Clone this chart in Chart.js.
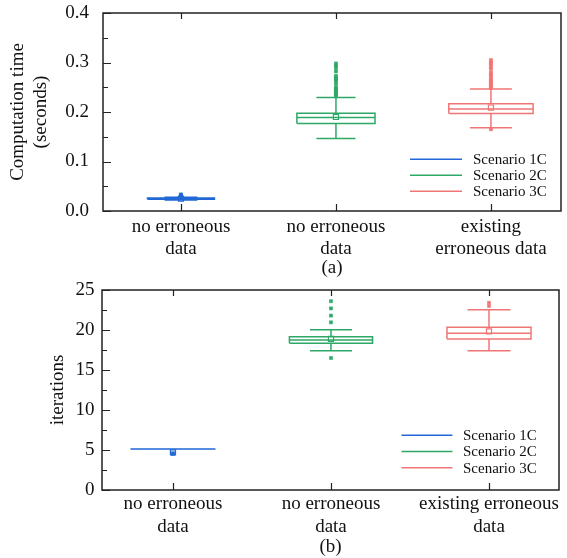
<!DOCTYPE html>
<html><head><meta charset="utf-8">
<script src="https://cdn.jsdelivr.net/npm/chart.js@4.4.1/dist/chart.umd.min.js"></script>
<style>
html,body{margin:0;padding:0;background:#fff;}
#wrap{width:567px;height:558px;position:relative;overflow:hidden;}
canvas{position:absolute;left:0;}
</style></head><body>
<div id="wrap">
<canvas id="ca" width="567" height="280" style="top:0"></canvas>
<canvas id="cb" width="567" height="278" style="top:280px"></canvas>
</div>
<script>
// ---------- data ----------
const scenarios = ['Scenario 1C', 'Scenario 2C', 'Scenario 3C'];
const categoriesA = [['no erroneous', 'data'], ['no erroneous', 'data'], ['existing', 'erroneous data']];
const categoriesB = [['no erroneous', 'data'], ['no erroneous', 'data'], ['existing erroneous', 'data']];
const yTicksA = [0, 0.1, 0.2, 0.3, 0.4];
const yTicksB = [0, 5, 10, 15, 20, 25];

// (a) computation time, seconds: [lower whisker, Q1, median, Q3, upper whisker]
const timeBox1C = [0.0222, 0.0236, 0.0250, 0.0264, 0.0278];
const timeBox2C = [0.1465, 0.1767, 0.1888, 0.1975, 0.2294];
const timeBox3C = [0.1680, 0.1968, 0.2062, 0.2169, 0.2464];
const timeMean = [0.0250, 0.1900, 0.2090];
const timeOut1C = [0.0290, 0.0305, 0.0320, 0.0335];
const timeOut2C = [0.232, 0.235, 0.238, 0.241, 0.244, 0.247, 0.250, 0.257, 0.263, 0.266, 0.270, 0.273, 0.282, 0.289, 0.294, 0.298];
const timeOut3C = [0.165, 0.249, 0.252, 0.255, 0.258, 0.261, 0.264, 0.268, 0.273, 0.276, 0.280, 0.287, 0.290, 0.295, 0.298, 0.301, 0.305];

// (b) iterations: [lower whisker, Q1, median, Q3, upper whisker]
const iterBox1C = [5.13, 5.13, 5.13, 5.13, 5.13];
const iterBox2C = [17.42, 18.33, 18.75, 19.17, 20.04];
const iterBox3C = [17.42, 18.87, 19.58, 20.33, 22.54];
const iterMean = [4.70, 18.90, 19.83];
const iterOut1C = [4.50, 4.60];
const iterOut2C = [16.5, 20.96, 21.8, 22.7, 23.6];
const iterOut3C = [23.0, 23.4];

// ---------- styles ----------
const COLORS = ['#2168d6', '#2ea866', '#f07676'];
const FONT = "'Liberation Serif', 'Times New Roman', serif";

function boxPath(x, b, bh, ch) {
  return [
    {x: x - bh, y: b[1]}, {x: x + bh, y: b[1]}, {x: x + bh, y: b[3]}, {x: x - bh, y: b[3]}, {x: x - bh, y: b[1]}, {x: x, y: null},
    {x: x - bh, y: b[2]}, {x: x + bh, y: b[2]}, {x: x, y: null},
    {x: x, y: b[3]}, {x: x, y: b[4]}, {x: x, y: null},
    {x: x - ch, y: b[4]}, {x: x + ch, y: b[4]}, {x: x, y: null},
    {x: x, y: b[1]}, {x: x, y: b[0]}, {x: x, y: null},
    {x: x - ch, y: b[0]}, {x: x + ch, y: b[0]}
  ];
}

function buildDatasets(boxes, means, outs, boxHalf, capHalf) {
  const ds = [];
  boxes.forEach((b, i) => {
    const x = i + 1;
    ds.push({type: 'line', label: scenarios[i], data: boxPath(x, b, boxHalf[i], capHalf[i]),
      borderColor: COLORS[i], borderWidth: 1.5, pointRadius: 0, spanGaps: false, fill: false,
      tension: 0, borderJoinStyle: 'miter'});
    ds.push({type: 'scatter', label: scenarios[i] + ' outliers', data: outs[i].map(v => ({x: x, y: v})),
      pointStyle: 'rect', pointRadius: 2.2, backgroundColor: COLORS[i], borderColor: COLORS[i], borderWidth: 0.5});
    ds.push({type: 'scatter', label: scenarios[i] + ' mean', data: [{x: x, y: means[i]}],
      pointStyle: 'rect', pointRadius: 3.6, backgroundColor: 'rgba(255,255,255,0)', borderColor: COLORS[i], borderWidth: 1.2});
  });
  return ds;
}

const framePlugin = {
  id: 'frame',
  afterDatasetsDraw(chart, args, o) {
    const {ctx, chartArea: a, scales} = chart;
    ctx.save();
    ctx.strokeStyle = '#222';
    ctx.lineWidth = 1.5;
    ctx.strokeRect(a.left, a.top, a.right - a.left, a.bottom - a.top);
    ctx.lineWidth = 1.2;
    ctx.beginPath();
    const ys = scales.y;
    for (let v = ys.min; v <= ys.max + 1e-9; v += o.minor) {
      const p = Math.round(ys.getPixelForValue(v)) + 0.5;
      const major = Math.abs(v / o.major - Math.round(v / o.major)) < 1e-6;
      ctx.moveTo(a.left, p); ctx.lineTo(a.left + (major ? 8 : 5), p);
    }
    const xs = scales.x;
    for (let i = 1; i <= 3; i++) {
      const p = Math.round(xs.getPixelForValue(i)) + 0.5;
      ctx.moveTo(p, a.bottom); ctx.lineTo(p, a.bottom - 7);
      ctx.moveTo(p, a.top); ctx.lineTo(p, a.top + 6);
    }
    ctx.stroke();
    // legend
    ctx.font = '15px ' + FONT;
    ctx.textBaseline = 'middle';
    ctx.textAlign = 'left';
    scenarios.forEach((s, i) => {
      const y = o.legY + i * o.legStep;
      ctx.strokeStyle = COLORS[i];
      ctx.lineWidth = 1.5;
      ctx.beginPath(); ctx.moveTo(o.legX0, y); ctx.lineTo(o.legX1, y); ctx.stroke();
      ctx.fillStyle = '#111';
      ctx.fillText(s, o.legText, y + 1);
    });
    ctx.restore();
  }
};

function makeChart(id, cfg) {
  return new Chart(document.getElementById(id), {
    data: {datasets: cfg.datasets},
    options: {
      responsive: false, animation: false,
      layout: {padding: cfg.padding},
      plugins: {legend: {display: false}, tooltip: {enabled: false}, frame: cfg.frame},
      scales: {
        x: {type: 'linear', min: cfg.xMin, max: cfg.xMax,
          grid: {display: false, drawTicks: false}, border: {display: false},
          afterBuildTicks: s => { s.ticks = cfg.cats.map((c, i) => ({value: i + 1})); },
          afterFit: s => { s.height = cfg.xHeight; s.paddingLeft = 0; s.paddingRight = 0; },
          ticks: {autoSkip: false, maxRotation: 0, padding: cfg.xTickPad, color: '#111',
            font: {family: FONT, size: 19, lineHeight: cfg.xLineH},
            callback: (v) => cfg.cats[Math.round(v) - 1] || ''},
          title: {display: true, text: cfg.xTitle, color: '#111', font: {family: FONT, size: 19}, padding: {top: 0, bottom: cfg.xTitlePad}}
        },
        y: {type: 'linear', min: cfg.yTicks[0], max: cfg.yTicks[cfg.yTicks.length - 1],
          grid: {display: false, drawTicks: false}, border: {display: false},
          afterBuildTicks: s => { s.ticks = cfg.yTicks.map(v => ({value: v})); },
          afterFit: s => { s.width = cfg.yWidth; s.paddingTop = 0; s.paddingBottom = 0; },
          ticks: {padding: cfg.yTickPad, color: '#111', font: {family: FONT, size: 19},
            callback: cfg.yFmt},
          title: {display: true, text: cfg.yTitle, color: '#111', font: {family: FONT, size: 19}, padding: {top: cfg.yTitlePad, bottom: 0}}
        }
      }
    },
    plugins: [framePlugin]
  });
}

makeChart('ca', {
  datasets: buildDatasets([timeBox1C, timeBox2C, timeBox3C], timeMean, [timeOut1C, timeOut2C, timeOut3C],
    [0.216, 0.252, 0.272], [0.106, 0.126, 0.135]),
  cats: categoriesA, yTicks: yTicksA, yFmt: v => v.toFixed(1),
  xMin: 0.497, xMax: 3.452, padding: {left: 0, right: 6, top: 13, bottom: 0},
  xHeight: 69, yWidth: 103, xTickPad: 5, xLineH: 1.15, xTitlePad: 1, yTickPad: 14, yTitlePad: 6.4,
  xTitle: '(a)', yTitle: ['Computation time', '(seconds)'],
  frame: {major: 0.1, minor: 0.05, legX0: 410, legX1: 462, legText: 473, legY: 159.3, legStep: 16}
});

makeChart('cb', {
  datasets: buildDatasets([iterBox1C, iterBox2C, iterBox3C], iterMean, [iterOut1C, iterOut2C, iterOut3C],
    [0.269, 0.263, 0.266], [0.133, 0.133, 0.136]),
  cats: categoriesB, yTicks: yTicksB, yFmt: v => String(v),
  xMin: 0.551, xMax: 3.443, padding: {left: 0, right: 8, top: 10, bottom: 0},
  xHeight: 68, yWidth: 102, xTickPad: 3, xLineH: 1.2, xTitlePad: 0, yTickPad: 7.5, yTitlePad: 46.3,
  xTitle: '(b)', yTitle: 'iterations',
  frame: {major: 5, minor: 2.5, legX0: 401.5, legX1: 452.4, legText: 463, legY: 155.3, legStep: 16.2}
});
</script>
</body></html>
